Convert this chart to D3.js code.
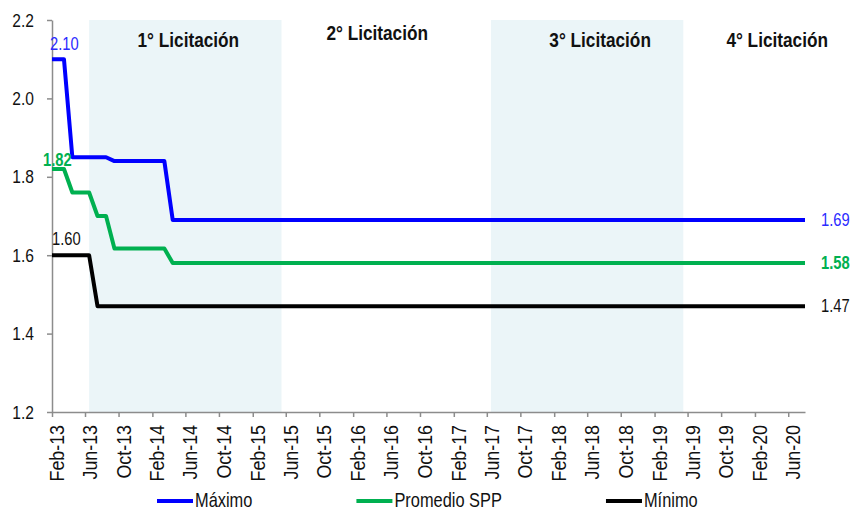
<!DOCTYPE html>
<html>
<head>
<meta charset="utf-8">
<script src="https://cdn.jsdelivr.net/npm/d3@7"></script>
<style>
  body { margin: 0; background: #fff; }
  svg { display: block; }
</style>
</head>
<body>
<svg id="chart" width="852" height="510"></svg>
<script>
// monthly values, Feb-13 .. Jul-20 (one per month)
const firstMonth = "Feb-13";
const lastMonth = "Jul-20";

const maximo = [
  2.10, 2.10, 1.85, 1.85, 1.85, 1.85, 1.85, 1.84, 1.84, 1.84, 1.84,          // 2013
  1.84, 1.84, 1.84, 1.69, 1.69, 1.69, 1.69, 1.69, 1.69, 1.69, 1.69, 1.69,    // 2014
  1.69, 1.69, 1.69, 1.69, 1.69, 1.69, 1.69, 1.69, 1.69, 1.69, 1.69, 1.69,    // 2015
  1.69, 1.69, 1.69, 1.69, 1.69, 1.69, 1.69, 1.69, 1.69, 1.69, 1.69, 1.69,    // 2016
  1.69, 1.69, 1.69, 1.69, 1.69, 1.69, 1.69, 1.69, 1.69, 1.69, 1.69, 1.69,    // 2017
  1.69, 1.69, 1.69, 1.69, 1.69, 1.69, 1.69, 1.69, 1.69, 1.69, 1.69, 1.69,    // 2018
  1.69, 1.69, 1.69, 1.69, 1.69, 1.69, 1.69, 1.69, 1.69, 1.69, 1.69, 1.69,    // 2019
  1.69, 1.69, 1.69, 1.69, 1.69, 1.69, 1.69                                   // 2020
];
const promedio = [
  1.82, 1.82, 1.76, 1.76, 1.76, 1.70, 1.70, 1.617, 1.617, 1.617, 1.617,     // 2013
  1.617, 1.617, 1.617, 1.58, 1.58, 1.58, 1.58, 1.58, 1.58, 1.58, 1.58, 1.58, // 2014
  1.58, 1.58, 1.58, 1.58, 1.58, 1.58, 1.58, 1.58, 1.58, 1.58, 1.58, 1.58,    // 2015
  1.58, 1.58, 1.58, 1.58, 1.58, 1.58, 1.58, 1.58, 1.58, 1.58, 1.58, 1.58,    // 2016
  1.58, 1.58, 1.58, 1.58, 1.58, 1.58, 1.58, 1.58, 1.58, 1.58, 1.58, 1.58,    // 2017
  1.58, 1.58, 1.58, 1.58, 1.58, 1.58, 1.58, 1.58, 1.58, 1.58, 1.58, 1.58,    // 2018
  1.58, 1.58, 1.58, 1.58, 1.58, 1.58, 1.58, 1.58, 1.58, 1.58, 1.58, 1.58,    // 2019
  1.58, 1.58, 1.58, 1.58, 1.58, 1.58, 1.58                                   // 2020
];
const minimo = [
  1.60, 1.60, 1.60, 1.60, 1.60, 1.47, 1.47, 1.47, 1.47, 1.47, 1.47,          // 2013
  1.47, 1.47, 1.47, 1.47, 1.47, 1.47, 1.47, 1.47, 1.47, 1.47, 1.47, 1.47,    // 2014
  1.47, 1.47, 1.47, 1.47, 1.47, 1.47, 1.47, 1.47, 1.47, 1.47, 1.47, 1.47,    // 2015
  1.47, 1.47, 1.47, 1.47, 1.47, 1.47, 1.47, 1.47, 1.47, 1.47, 1.47, 1.47,    // 2016
  1.47, 1.47, 1.47, 1.47, 1.47, 1.47, 1.47, 1.47, 1.47, 1.47, 1.47, 1.47,    // 2017
  1.47, 1.47, 1.47, 1.47, 1.47, 1.47, 1.47, 1.47, 1.47, 1.47, 1.47, 1.47,    // 2018
  1.47, 1.47, 1.47, 1.47, 1.47, 1.47, 1.47, 1.47, 1.47, 1.47, 1.47, 1.47,    // 2019
  1.47, 1.47, 1.47, 1.47, 1.47, 1.47, 1.47                                   // 2020
];

const seriesNames = ["Máximo", "Promedio SPP", "Mínimo"];
const tenderNames = ["1° Licitación", "2° Licitación", "3° Licitación", "4° Licitación"];
const shadedPeriods = [["Jun-13", "May-15"], ["Jun-17", "May-19"]];
const xTickLabels = ["Feb-13", "Jun-13", "Oct-13", "Feb-14", "Jun-14", "Oct-14", "Feb-15", "Jun-15",
  "Oct-15", "Feb-16", "Jun-16", "Oct-16", "Feb-17", "Jun-17", "Oct-17", "Feb-18", "Jun-18",
  "Oct-18", "Feb-19", "Jun-19", "Oct-19", "Feb-20", "Jun-20"];
const yTicks = [1.2, 1.4, 1.6, 1.8, 2.0, 2.2];

// styling (no narrow face installed, so text is squeezed horizontally)
const font = '"Liberation Sans", Arial, sans-serif';
const SX = 0.82;
const colors = ["#0000ff", "#00b050", "#000000"];
const labelColors = ["#2b2bff", "#00b050", "#111111"];
const axisColor = "#8c8c8c";
const shadeColor = "#ebf5f8";

// move x/y into a transform so the text can be condensed
function narrow(sel, sx = SX) {
  sel.each(function () {
    const t = d3.select(this);
    const x0 = +t.attr("x") || 0, y0 = +t.attr("y") || 0;
    t.attr("x", null).attr("y", null)
      .attr("transform", `translate(${x0},${y0}) scale(${sx},1)`);
  });
}

const svg = d3.select("#chart").attr("font-family", font);
const parseM = d3.timeParse("%b-%y");
const months = d3.timeMonth.range(parseM(firstMonth), d3.timeMonth.offset(parseM(lastMonth), 1));
const nextM = d => d3.timeMonth.offset(d, 1);
const mid = d => new Date((+d + +nextM(d)) / 2);

const x = d3.scaleTime()
    .domain([months[0], nextM(months[months.length - 1])])
    .range([52, 805]);
const y = d3.scaleLinear()
    .domain([1.2, 2.2])
    .range([412, 20]);

// shaded tender periods
svg.append("g").selectAll("rect")
  .data(shadedPeriods)
  .join("rect")
    .attr("x", d => x(mid(parseM(d[0]))))
    .attr("width", d => x(mid(parseM(d[1]))) - x(mid(parseM(d[0]))))
    .attr("y", y(2.2))
    .attr("height", y(1.2) - y(2.2))
    .attr("fill", shadeColor);

// tender titles: boundaries of the four periods
const bounds = [x(mid(parseM(shadedPeriods[0][0]))), x(mid(parseM(shadedPeriods[0][1]))),
  x(mid(parseM(shadedPeriods[1][0]))), x(mid(parseM(shadedPeriods[1][1]))), x.range()[1]];
const titleDx = [3, -9, 13, 33];
const titleY = [47, 40, 47, 47];
svg.append("g").selectAll("text")
  .data(tenderNames)
  .join("text")
    .attr("x", (d, i) => (bounds[i] + bounds[i + 1]) / 2 + titleDx[i])
    .attr("y", (d, i) => titleY[i])
    .attr("text-anchor", "middle")
    .attr("font-size", 21)
    .attr("font-weight", "bold")
    .attr("fill", "#111")
    .text(d => d)
    .call(narrow);

// axes
const yAxis = svg.append("g")
    .attr("transform", "translate(52,0)")
    .call(d3.axisLeft(y).tickValues(yTicks).tickFormat(d3.format(".1f"))
      .tickSize(5).tickSizeOuter(0).tickPadding(13));
yAxis.attr("font-family", font).attr("font-size", 19);
yAxis.selectAll("path, line").attr("stroke", axisColor).attr("stroke-width", 1.5);
yAxis.selectAll("text").attr("fill", "#111").call(narrow);

const xAxis = svg.append("g")
    .attr("transform", "translate(0,412)")
    .call(d3.axisBottom(x).tickValues(xTickLabels.map(parseM))
      .tickFormat((d, i) => xTickLabels[i]).tickSize(5).tickSizeOuter(0));
xAxis.attr("font-family", font).attr("font-size", 21);
xAxis.selectAll("path, line").attr("stroke", axisColor).attr("stroke-width", 1.5);
xAxis.selectAll("text")
    .attr("fill", "#111")
    .attr("text-anchor", "end")
    .attr("x", null)
    .attr("y", null)
    .attr("dy", 11.5)
    .attr("transform", `rotate(-90) translate(-13,0) scale(0.85,1)`);

// lines: first/last value held to the edges of the month
const allSeries = [maximo, promedio, minimo];
const line = d3.line()
    .x(d => x(d.date))
    .y(d => y(d.v));
const pts = vals => [{ date: months[0], v: vals[0] }]
  .concat(vals.map((v, i) => ({ date: mid(months[i]), v })))
  .concat([{ date: nextM(months[months.length - 1]), v: vals[vals.length - 1] }]);

svg.append("g").selectAll("path")
  .data(allSeries)
  .join("path")
    .attr("fill", "none")
    .attr("stroke", (d, i) => colors[i])
    .attr("stroke-width", 4)
    .attr("stroke-linejoin", "round")
    .attr("d", d => line(pts(d)));

// start / end value labels
const startDx = [-2, -9, 0];
const startDy = [-9, -3, -10];
svg.append("g").selectAll("text")
  .data(allSeries)
  .join("text")
    .attr("x", (d, i) => x(months[0]) + startDx[i])
    .attr("y", (d, i) => y(d[0]) + startDy[i])
    .attr("font-size", 18)
    .attr("font-weight", (d, i) => i === 1 ? "bold" : null)
    .attr("fill", (d, i) => labelColors[i])
    .text(d => d[0].toFixed(2))
    .call(narrow);

svg.append("g").selectAll("text")
  .data(allSeries)
  .join("text")
    .attr("x", x.range()[1] + 16)
    .attr("y", d => y(d[d.length - 1]) + 6)
    .attr("font-size", 18)
    .attr("font-weight", (d, i) => i === 1 ? "bold" : null)
    .attr("fill", (d, i) => labelColors[i])
    .text(d => d[d.length - 1].toFixed(2))
    .call(narrow);

// legend
const legend = svg.append("g").attr("font-size", 20);
let lx = 157;
seriesNames.forEach((name, i) => {
  legend.append("line")
    .attr("x1", lx).attr("x2", lx + 36)
    .attr("y1", 501).attr("y2", 501)
    .attr("stroke", colors[i])
    .attr("stroke-width", 4);
  const t = legend.append("text")
    .attr("x", lx + 38)
    .attr("y", 507)
    .attr("fill", "#111")
    .text(name);
  const w = t.node().getComputedTextLength() * SX;
  t.call(narrow);
  lx += 36 + 2 + w + 104;
});
</script>
</body>
</html>
